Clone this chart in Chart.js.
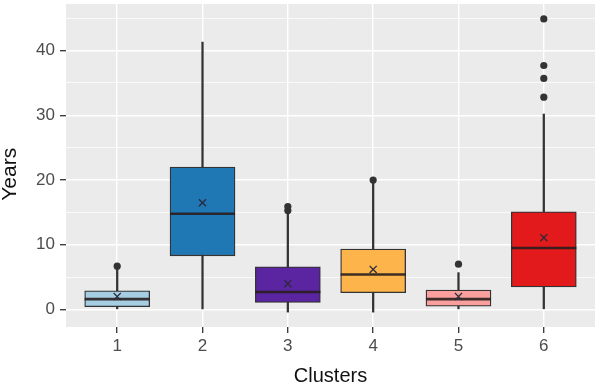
<!DOCTYPE html>
<html>
<head>
<meta charset="utf-8">
<script src="https://cdn.jsdelivr.net/npm/chart.js@4/dist/chart.umd.min.js"></script>
<style>
  html, body { margin: 0; padding: 0; background: #fff; }
  #wrap { width: 597px; height: 382px; }
</style>
</head>
<body>
<div id="wrap"><canvas id="boxChart" width="597" height="382"></canvas></div>
<script>
// values
const clusters = [1, 2, 3, 4, 5, 6];
const clusterLabels = ["1", "2", "3", "4", "5", "6"];
const whiskerLow  = [0, 0, -0.4, -0.4, 0, 0];
const q1          = [0.45, 8.3, 1.1, 2.6, 0.5, 3.5];
const median      = [1.6, 14.8, 2.7, 5.4, 1.6, 9.5];
const q3          = [2.9, 22.0, 6.6, 9.35, 3.0, 15.1];
const whiskerHigh = [6.2, 41.3, 15.0, 19.6, 5.7, 30.2];
const means       = [2.0, 16.5, 4.0, 6.2, 2.0, 11.1];
const outlierCluster = [1, 3, 3, 4, 5, 6, 6, 6, 6];
const outlierValue   = [6.7, 15.3, 15.9, 20.0, 7.0, 32.8, 35.7, 37.7, 44.9];
const boxColors = ["#a6cee3", "#1f78b4", "#5b24a0", "#fdb44b", "#f9a09e", "#e31a1c"];

const panelBg = {
  id: "panelBg",
  beforeDraw(chart) {
    const a = chart.chartArea;
    const ctx = chart.ctx;
    ctx.save();
    ctx.fillStyle = "#ebebeb";
    ctx.fillRect(a.left, a.top, a.right - a.left, a.bottom - a.top);
    ctx.restore();
  }
};

const isMajor = v => Math.abs(v % 10) < 1e-6;
const fontFam = "Liberation Sans, Arial, sans-serif";

new Chart(document.getElementById("boxChart"), {
  type: "bar",
  data: {
    datasets: [
      {
        label: "outliers",
        type: "scatter",
        data: outlierCluster.map((c, i) => ({ x: c, y: outlierValue[i] })),
        pointStyle: "circle",
        radius: 3.6,
        backgroundColor: "#333333",
        borderColor: "#333333",
        borderWidth: 0,
        order: 0
      },
      {
        label: "mean",
        type: "scatter",
        data: clusters.map((c, i) => ({ x: c, y: means[i] })),
        pointStyle: "crossRot",
        radius: 5,
        borderColor: "#2a2a3a",
        borderWidth: 1.3,
        order: 1
      },
      {
        label: "median",
        type: "scatter",
        data: clusters.map((c, i) => ({ x: c, y: median[i] })),
        pointStyle: "line",
        radius: 32.5,
        borderColor: "rgba(40,30,30,0.9)",
        borderWidth: 2.6,
        order: 2
      },
      {
        label: "box",
        data: clusters.map((c, i) => ({ x: c, y: [q1[i], q3[i]] })),
        backgroundColor: boxColors,
        borderColor: "#333333",
        borderWidth: 1.3,
        borderSkipped: false,
        barThickness: 65,
        grouped: false,
        order: 3
      },
      {
        label: "whisker",
        data: clusters.map((c, i) => ({ x: c, y: [whiskerLow[i], whiskerHigh[i]] })),
        backgroundColor: "#333333",
        borderWidth: 0,
        barThickness: 1.6,
        grouped: false,
        order: 4
      }
    ]
  },
  options: {
    responsive: false,
    animation: false,
    layout: { autoPadding: false, padding: { top: 4, right: 2, left: 0, bottom: 0 } },
    plugins: { legend: { display: false }, tooltip: { enabled: false } },
    scales: {
      x: {
        type: "linear",
        min: 0.4,
        max: 6.6,
        offset: false,
        border: { display: false },
        grid: { offset: false, color: "#ffffff", lineWidth: 1.4, tickColor: "#333333", tickLength: 6, tickWidth: 1.3 },
        ticks: {
          stepSize: 1,
          includeBounds: false,
          padding: 3,
          color: "#4d4d4d",
          font: { family: fontFam, size: 17 },
          callback: v => clusterLabels[clusters.indexOf(v)] ?? ""
        },
        title: {
          display: true,
          text: "Clusters",
          color: "#111111",
          padding: { top: 0, bottom: -4 },
          font: { family: fontFam, size: 20, lineHeight: 1 }
        },
        afterFit: s => { s.height = 55; s.paddingLeft = 0; s.paddingRight = 0; }
      },
      y: {
        min: -2.7,
        max: 47.2,
        border: { display: false },
        grid: {
          color: "#ffffff",
          lineWidth: c => isMajor(c.tick.value) ? 1.4 : 0.7,
          tickColor: c => isMajor(c.tick.value) ? "#333333" : "rgba(0,0,0,0)",
          tickLength: 6,
          tickWidth: 1.3
        },
        ticks: {
          stepSize: 5,
          includeBounds: false,
          autoSkip: false,
          padding: 5,
          color: "#4d4d4d",
          font: { family: fontFam, size: 17 },
          callback: v => isMajor(v) ? String(v) : ""
        },
        title: {
          display: true,
          text: "Years   ",
          color: "#111111",
          padding: { top: 0, bottom: 0 },
          font: { family: fontFam, size: 21, lineHeight: 1 }
        },
        afterFit: s => { s.width = 66; s.paddingTop = 0; s.paddingBottom = 0; }
      }
    }
  },
  plugins: [panelBg]
});
</script>
</body>
</html>
